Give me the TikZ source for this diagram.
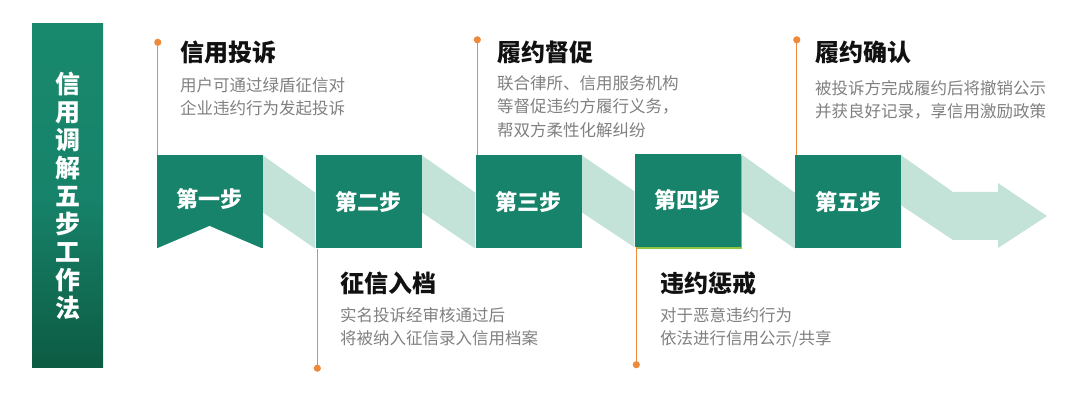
\documentclass[tikz,border=0pt]{standalone}
\usepackage{fontspec}
\setmainfont{Noto Sans CJK SC}
\usepackage{tikz}
\usetikzlibrary{positioning,backgrounds,shadows}
\definecolor{greenx}{HTML}{17836A}
\definecolor{greentop}{HTML}{18896C}
\definecolor{greenbot}{HTML}{0C5B42}
\definecolor{mint}{HTML}{C3E2D8}
\definecolor{orangex}{HTML}{EE8A3C}
\definecolor{leaf}{HTML}{8DC63F}
\definecolor{inkx}{HTML}{111111}
\definecolor{greyx}{HTML}{808080}
\tikzset{
  stepbox/.style={fill=greenx,minimum width=106pt,minimum height=93pt,inner sep=0pt,text=white,font=\bfseries\fontsize{22}{24}\selectfont},
  band/.style={fill=mint},
  lead/.style={orangex,line width=1.3pt},
  ttl/.style={anchor=west,inner sep=0pt,text=inkx,font=\bfseries\fontsize{24}{26}\selectfont},
  desc/.style={anchor=north west,inner sep=0pt,align=left,text=greyx,font=\fontsize{16.5}{23.5}\selectfont}
}

\begin{document}
\begin{tikzpicture}[x=1pt,y=-1pt]
\useasboundingbox (0,0) rectangle (1080,403);
\node[minimum width=71pt,minimum height=344pt,inner sep=0pt,top color=greentop,bottom color=greenbot,middle color=greenx,
  text=white,align=center,font=\bfseries\fontsize{25}{28}\selectfont] (bar) at (67.5,196)
  {信\\用\\调\\解\\五\\步\\工\\作\\法};
% steps
\node[stepbox] (s1) at (209.5,202) {};
\node[text=white,font=\bfseries\fontsize{22}{24}\selectfont] (l1) at (209.5,199) {第一步};
\node[stepbox] (s2) at (368.5,202) {第二步};
\node[stepbox] (s3) at (528.5,202) {第三步};
\node[stepbox,general shadow={fill=leaf,shadow xshift=1.8pt,shadow yshift=-1.8pt}] (s4) at (687.5,200.5) {第四步};
\node[stepbox] (s5) at (848,202) {第五步};
\fill[white] (s1.south west) -- (209.5,226) -- (s1.south east) -- cycle;
\begin{scope}[on background layer]
\fill[band] (s1.north east) -- ++(0,57) -- (s2.south west) -- ++(0,-56) -- cycle;
\fill[band] (s2.north east) -- ++(0,57) -- (s3.south west) -- ++(0,-56) -- cycle;
\fill[band] (s3.north east) -- ++(0,57) -- (s4.south west) -- ++(0,-56) -- cycle;
\fill[band] (s4.north east) -- ++(0,57) -- (s5.south west) -- ++(0,-56) -- cycle;
\fill[band] (s5.north east) -- ++(0,50) -- (953,240) -- (953,192) -- cycle;
\end{scope}
\fill[band] (953,192) -- (998,192) -- (998,183) -- (1047,216) -- (998,248) -- (998,240) -- (953,240) -- cycle;
% leaders
\draw[lead] ([xshift=1.5pt]s1.north west) -- ++(0,-113) coordinate (p1);
\draw[lead] ([xshift=2pt]s2.south west) -- ++(0,119.5) coordinate (p2);
\draw[lead] ([xshift=2pt]s3.north west) -- ++(0,-115.5) coordinate (p3);
\draw[lead] ([xshift=2pt]s4.south west) -- ++(0,117.5) coordinate (p4);
\draw[lead] ([xshift=2pt]s5.north west) -- ++(0,-115.5) coordinate (p5);
\foreach \p in {p1,p2,p3,p4,p5}{\fill[orangex] (\p) circle (3.6pt);}
% texts
\node[ttl] (t1) at (180,52) {信用投诉};
\node[desc] (d1) at (180,77) {用户可通过绿盾征信对\\企业违约行为发起投诉};
\node[ttl] (t2) at (340,283) {征信入档};
\node[desc] (d2) at (340,307) {实名投诉经审核通过后\\将被纳入征信录入信用档案};
\node[ttl] (t3) at (497,52) {履约督促};
\node[desc] (d3) at (497,75) {联合律所、信用服务机构\\等督促违约方履行义务，\\帮双方柔性化解纠纷};
\node[ttl] (t4) at (660,283) {违约惩戒};
\node[desc] (d4) at (660,307) {对于恶意违约行为\\依法进行信用公示/共享};
\node[ttl] (t5) at (815,52) {履约确认};
\node[desc] (d5) at (815,80) {被投诉方完成履约后将撤销公示\\并获良好记录，享信用激励政策};
\end{tikzpicture}
\end{document}
